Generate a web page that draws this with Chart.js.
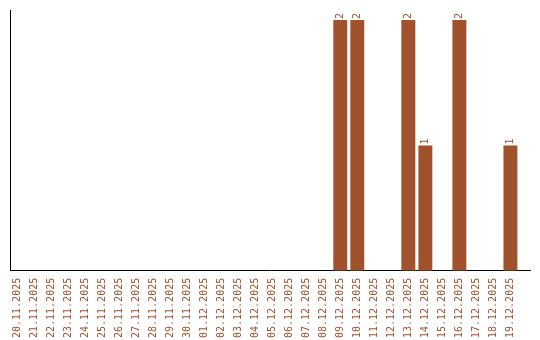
<!DOCTYPE html>
<html>
<head>
<meta charset="utf-8">
<script src="https://cdn.jsdelivr.net/npm/chart.js@4/dist/chart.umd.min.js"></script>
<style>
html,body{margin:0;padding:0;background:#fff;}
canvas{display:block;}
</style>
</head>
<body>
<canvas id="c" width="540" height="340"></canvas>
<script>
const categories = ["20.11.2025","21.11.2025","22.11.2025","23.11.2025","24.11.2025","25.11.2025","26.11.2025","27.11.2025","28.11.2025","29.11.2025","30.11.2025","01.12.2025","02.12.2025","03.12.2025","04.12.2025","05.12.2025","06.12.2025","07.12.2025","08.12.2025","09.12.2025","10.12.2025","11.12.2025","12.12.2025","13.12.2025","14.12.2025","15.12.2025","16.12.2025","17.12.2025","18.12.2025","19.12.2025"];
const values = [0,0,0,0,0,0,0,0,0,0,0,0,0,0,0,0,0,0,0,2,2,0,0,2,1,0,2,0,0,1];

const BROWN = '#a0522d';
const FONT = {family: '"DejaVu Sans Mono", monospace', size: 10};

const valueLabels = {
  id: 'valueLabels',
  afterDatasetsDraw(chart) {
    const ctx = chart.ctx;
    const meta = chart.getDatasetMeta(0);
    ctx.save();
    ctx.fillStyle = BROWN;
    ctx.font = '10px "DejaVu Sans Mono", monospace';
    ctx.textAlign = 'left';
    ctx.textBaseline = 'middle';
    meta.data.forEach((el, i) => {
      const v = values[i];
      if (!v) return;
      ctx.save();
      ctx.translate(el.x, el.y - 1);
      ctx.rotate(-Math.PI / 2);
      ctx.fillText(String(v), 0, 0);
      ctx.restore();
    });
    ctx.restore();
  }
};

new Chart(document.getElementById('c'), {
  type: 'bar',
  data: {
    datasets: [{
      data: values.map((v, i) => ({x: i, y: v})),
      backgroundColor: BROWN,
      borderWidth: 0,
      barPercentage: 0.82,
      categoryPercentage: 1
    }]
  },
  options: {
    responsive: false,
    animation: false,
    layout: {padding: {left: 10, top: 10, right: 10, bottom: -5}},
    plugins: {legend: {display: false}, tooltip: {enabled: false}},
    scales: {
      x: {
        type: 'linear',
        offset: false,
        min: -0.41,
        max: 30.15,
        afterFit: (scale) => { scale.paddingLeft = 0; scale.paddingRight = 0; },
        grid: {display: false, drawTicks: false, offset: false},
        border: {display: true, color: '#000', width: 1},
        ticks: {
          stepSize: 1,
          includeBounds: false,
          autoSkip: false,
          minRotation: 90,
          maxRotation: 90,
          padding: 7,
          color: BROWN,
          font: FONT,
          callback: (val) => categories[val] !== undefined ? categories[val] : ''
        }
      },
      y: {
        min: 0,
        max: 2.08,
        grid: {display: false, drawTicks: false},
        border: {display: true, color: '#000', width: 1},
        ticks: {display: false}
      }
    }
  },
  plugins: [valueLabels]
});
</script>
</body>
</html>
